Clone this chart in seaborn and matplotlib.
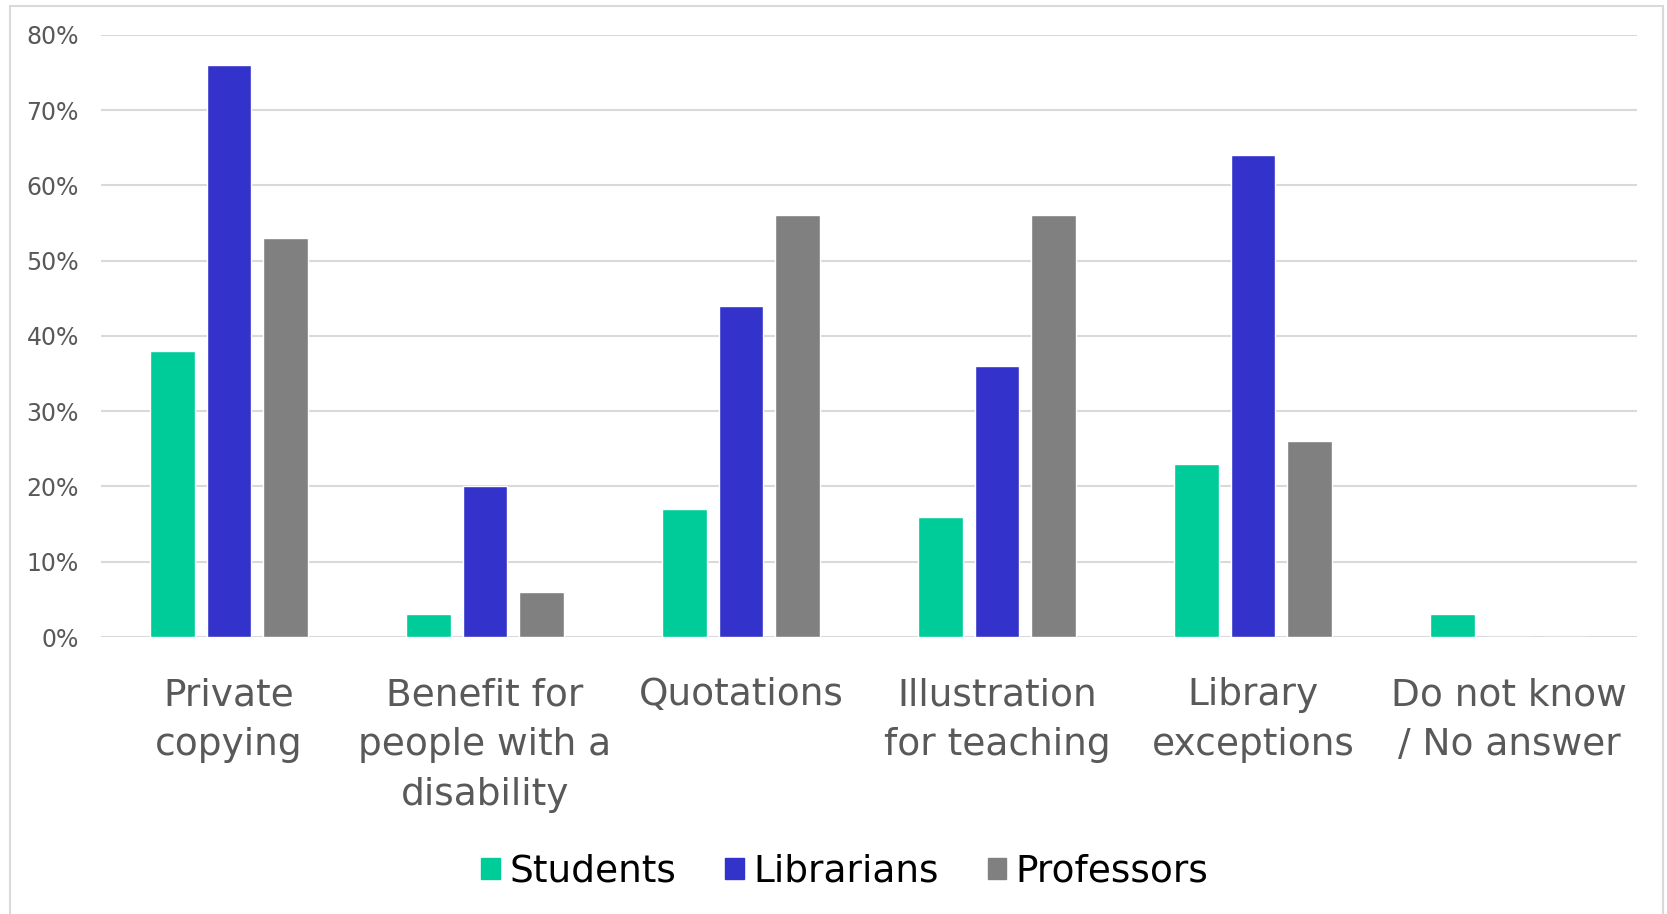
import matplotlib
matplotlib.use("Agg")
import matplotlib.pyplot as plt
import matplotlib.patches as mpatches
import pandas as pd
import seaborn as sns
from matplotlib.ticker import PercentFormatter

# Datos
categorias = ["Private\ncopying", "Benefit for\npeople with a\ndisability", "Quotations",
              "Illustration\nfor teaching", "Library\nexceptions", "Do not know\n/ No answer"]
grupos = ["Students", "Librarians", "Professors"]
students = [38, 3, 17, 16, 23, 3]
librarians = [76, 20, 44, 36, 64, 0]
professors = [53, 6, 56, 56, 26, 0]
colores = ["#00CC99", "#3333CC", "#808080"]

filas = []
for grupo, valores in zip(grupos, [students, librarians, professors]):
    for cat, v in zip(categorias, valores):
        filas.append({"categoria": cat, "grupo": grupo, "valor": v / 100})
df = pd.DataFrame(filas)

sns.set_style("white")
plt.rcParams["font.family"] = ["DejaVu Sans"]

fig = plt.figure(figsize=(16.67, 9.14), dpi=100)
ax = fig.add_axes([0.0606, 0.303, 0.9214, 0.659])

sns.barplot(data=df, x="categoria", y="valor", hue="grupo", order=categorias,
            hue_order=grupos, palette=colores, width=0.66, gap=0.21,
            saturation=1, ax=ax, legend=True)

ax.set_ylim(0, 0.8)
ax.set_xlim(-0.5, 5.5)
ax.yaxis.set_major_formatter(PercentFormatter(1.0, decimals=0))
ax.set_yticks([i / 10 for i in range(9)])
ax.grid(axis="y", color="#d9d9d9", linewidth=1.5)
ax.set_axisbelow(True)
for s in ax.spines.values():
    s.set_visible(False)
ax.set_xlabel("")
ax.set_ylabel("")
ax.tick_params(axis="y", labelsize=17, labelcolor="#595959", length=0, pad=16)
ax.tick_params(axis="x", labelsize=27, labelcolor="#595959", length=0, pad=29)
for t in ax.get_xticklabels():
    t.set_linespacing(1.5)

# Leyenda
handles = [mpatches.Patch(color=c) for c in colores]
leg = ax.legend(handles, grupos, loc="center", bbox_to_anchor=(845 / 1667, 1 - 872 / 914),
                bbox_transform=fig.transFigure, ncol=3, frameon=False, fontsize=27,
                handlelength=0.5, handleheight=0.5, handletextpad=0.25, columnspacing=1.3)
for t in leg.get_texts():
    t.set_color("black")

# Marco exterior
fig.patches.append(mpatches.Rectangle((10 / 1667, -0.01), (1663 - 10) / 1667, 1 - 6 / 914 + 0.01,
                                      transform=fig.transFigure, fill=False,
                                      edgecolor="#d9d9d9", linewidth=1.5))

fig.savefig("out.png", dpi=100)
